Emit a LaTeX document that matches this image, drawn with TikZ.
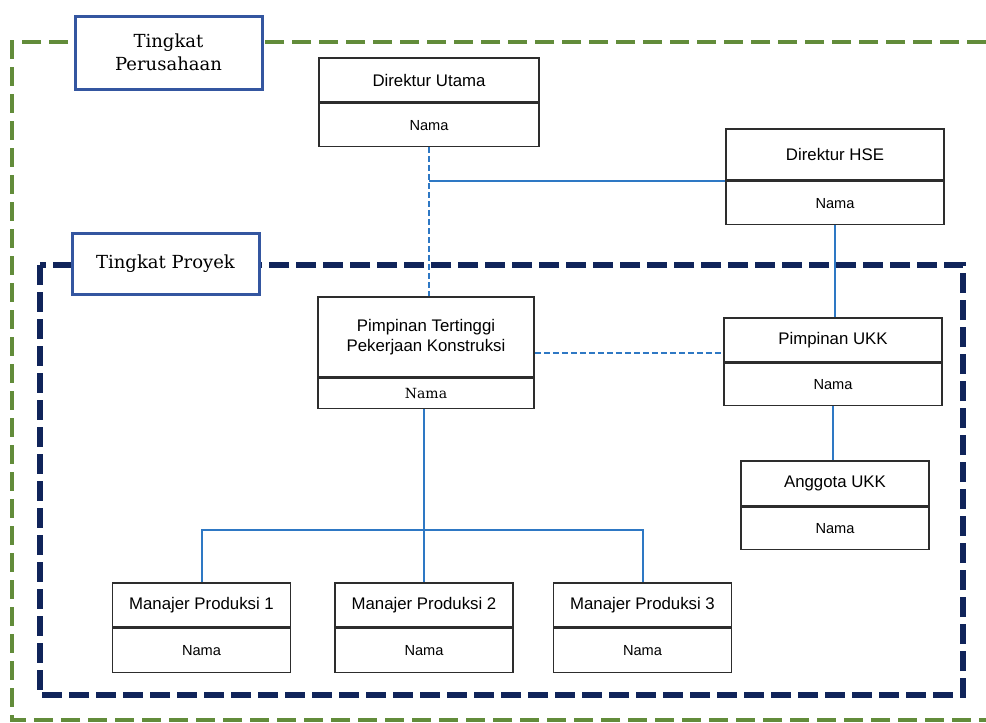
\documentclass[tikz,border=0pt]{standalone}
\usepackage{fontspec}
\setsansfont{Liberation Sans}
\newfontfamily\tingkatfont{DejaVu Serif}
\definecolor{hijau}{RGB}{98,140,58}
\definecolor{navy}{RGB}{16,36,90}
\definecolor{bingkai}{RGB}{52,86,160}
\definecolor{biru}{RGB}{46,120,196}
\definecolor{kotak}{RGB}{45,45,45}
\begin{document}
\begin{tikzpicture}[x=0.5pt,y=-0.5pt,
  jabatan/.style={draw=kotak, line width=0.8pt, fill=white, inner sep=0pt, align=center,
    font=\sffamily\fontsize{8.4}{10}\selectfont},
  nama/.style={jabatan, anchor=north, font=\sffamily\fontsize{7.3}{9}\selectfont},
  tingkat/.style={draw=bingkai, line width=1.5pt, fill=white, inner sep=0pt, align=center,
    minimum width=93.5pt, font=\tingkatfont\fontsize{9}{11.5}\selectfont},
  garis/.style={draw=biru, line width=1pt},
  putus/.style={garis, dash pattern=on 3pt off 1.5pt}]
  \useasboundingbox (0,0) rectangle (986,723);

  \draw[hijau, line width=2pt, dash pattern=on 9.5pt off 4pt] (986,42) -- (12,42) -- (12,720) -- (986,720);
  \draw[navy, line width=3pt, dash pattern=on 10pt off 3.5pt] (40,265) rectangle (963,695);

  \node[tingkat, minimum height=36.5pt] (perusahaan) at (168.5,52.5) {Tingkat\\Perusahaan};
  \node[tingkat, minimum height=30.5pt] (proyek) at (165.5,263.5) {Tingkat Proyek};

  \node[jabatan, minimum width=110pt, minimum height=22pt] (du) at (429,80) {Direktur Utama};
  \node[nama, minimum width=110pt, minimum height=21.5pt] (dun) at (du.south) {Nama};

  \node[jabatan, minimum width=109pt, minimum height=25.5pt] (hse) at (835,154.5) {Direktur HSE};
  \node[nama, minimum width=109pt, minimum height=21.5pt] (hsen) at (hse.south) {Nama};

  \node[jabatan, minimum width=108pt, minimum height=40pt] (pt) at (426,337) {Pimpinan Tertinggi\\Pekerjaan Konstruksi};
  \node[nama, minimum width=108pt, minimum height=15pt, font=\tingkatfont\fontsize{7}{9}\selectfont] (ptn) at (pt.south) {Nama};

  \node[jabatan, minimum width=109pt, minimum height=22pt] (ukk) at (833,340) {Pimpinan UKK};
  \node[nama, minimum width=109pt, minimum height=21pt] (ukkn) at (ukk.south) {Nama};

  \node[jabatan, minimum width=94pt, minimum height=22.5pt] (agt) at (835,483.5) {Anggota UKK};
  \node[nama, minimum width=94pt, minimum height=21pt] (agtn) at (agt.south) {Nama};

  \foreach \x/\i in {201.5/1,424/2,642.5/3} {
    \node[jabatan, minimum width=89pt, minimum height=22pt] (m\i) at (\x,605) {Manajer Produksi \i};
    \node[nama, minimum width=89pt, minimum height=22pt] (mn\i) at (m\i.south) {Nama};
  }

  \coordinate (cabang) at (dun.south |- hse.south);
  \coordinate (bus) at (424,530);

  \draw[putus] (dun.south) -- (dun.south |- pt.north);
  \draw[garis] (cabang) -- (hse.south west);
  \draw[garis] (hsen.south) -- (hsen.south |- ukk.north);
  \draw[putus] ([yshift=-8pt]pt.east) -- ([yshift=-8pt]pt.east -| ukk.west);
  \draw[garis] (ukkn.south) -- (ukkn.south |- agt.north);
  \draw[garis] (ptn.south -| bus) -- (m2.north);
  \draw[garis] (m1.north) |- (bus) -| (m3.north);
\end{tikzpicture}
\end{document}
